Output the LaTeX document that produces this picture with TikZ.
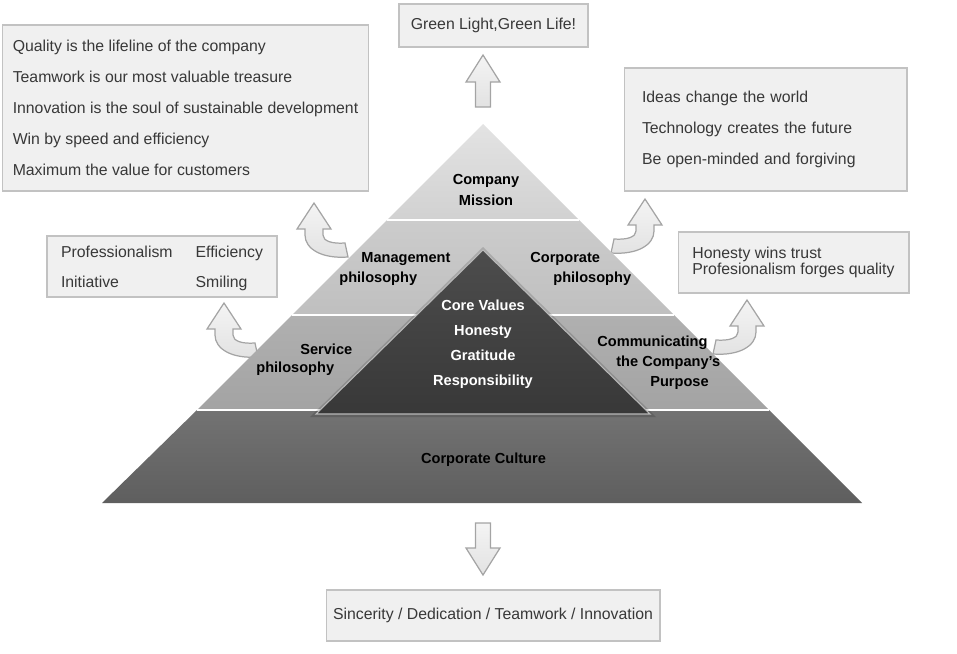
\documentclass[tikz,border=0pt]{standalone}
\usepackage{fontspec}
\setmainfont{Liberation Sans}

\definecolor{boxfill}{HTML}{F0F0F0}
\definecolor{boxline}{HTML}{C2C2C2}
\definecolor{boxtext}{HTML}{383838}
\definecolor{arrowline}{HTML}{A4A4A4}
\definecolor{arrowtop}{HTML}{F4F4F4}
\definecolor{arrowbottom}{HTML}{E2E2E2}

\tikzset{
    bentarrow/.pic={
        \path[hollowarrow] (0,0) -- (17,26) -- (9,26) -- (9,32)
            .. controls (9,38) and (18,41) .. (31,40) -- (34,54)
            .. controls (8,56) and (-9,46) .. (-9,32) -- (-9,26) -- (-17,26) -- cycle;
    },
    straightarrow/.pic={
        \path[hollowarrow] (0,0) -- (17,27) -- (7.5,27) -- (7.5,52)
            -- (-7.5,52) -- (-7.5,27) -- (-17,27) -- cycle;
    }
}

\begin{document}
\begin{tikzpicture}[
        x=0.02cm, y=-0.02cm,
        infobox/.style={
            rectangle,
            draw=boxline,
            fill=boxfill,
            line width=0.6pt,
            text=boxtext,
            align=left,
            inner sep=0pt,
            font=\fontsize{9}{17.6}\selectfont
        },
        layerlabel/.style={
            anchor=west,
            inner sep=0pt,
            font=\bfseries\fontsize{8.3}{12}\selectfont
        },
        corelabel/.style={
            text=white,
            align=center,
            inner sep=0pt,
            font=\bfseries\fontsize{8.3}{14.2}\selectfont
        },
        hollowarrow/.style={
            draw=arrowline,
            line width=0.7pt,
            top color=arrowtop,
            bottom color=arrowbottom
        },
        bandline/.style={white, line width=0.8pt}
    ]
        \useasboundingbox (0,0) rectangle (957,653);

        % arrows (behind the pyramid)
        \pic at (483,55) {straightarrow};
        \pic[yscale=-1] at (483,575) {straightarrow};
        \pic at (314,203) {bentarrow};
        \pic[xscale=-1] at (645,199) {bentarrow};
        \pic at (224,303) {bentarrow};
        \pic[xscale=-1] at (747,300) {bentarrow};

        % pyramid bands
        \path[top color=gray!22, bottom color=gray!36]
            (483,124) -- (579,220) -- (387,220) -- cycle;
        \path[top color=gray!40, bottom color=gray!50]
            (387,220) -- (579,220) -- (674,315) -- (292,315) -- cycle;
        \path[top color=gray!62, bottom color=gray!72]
            (292,315) -- (674,315) -- (769,410) -- (197,410) -- cycle;
        \path[top color=black!55, middle color=black!58, bottom color=black!63]
            (197,410) -- (769,410) -- (862,503) -- (102,503) -- cycle;
        \draw[bandline] (387,220) -- (579,220);
        \draw[bandline] (292,315) -- (674,315);
        \draw[bandline] (197,410) -- (769,410);

        % core triangle
        \fill[black, opacity=0.15] (483,247) -- (656,417) -- (310,417) -- cycle;
        \path[top color=black!70, bottom color=black!78, draw=gray!55, line width=0.6pt]
            (483,250) -- (650,414) -- (316,414) -- cycle;

        % pyramid labels
        \node[layerlabel, anchor=center, align=center] (mission) at (486,190) {Company\\Mission};
        \node[layerlabel] (mgmtA) at (361,259) {Management};
        \node[layerlabel] (mgmtB) at (339,279) {philosophy};
        \node[layerlabel] (corpA) at (530,259) {Corporate};
        \node[layerlabel] (corpB) at (553,279) {philosophy};
        \node[layerlabel] (servA) at (300,349) {Service};
        \node[layerlabel] (servB) at (256,369) {philosophy};
        \node[layerlabel] (commA) at (597,343) {Communicating};
        \node[layerlabel] (commB) at (616,363) {the Company's};
        \node[layerlabel] (commC) at (650,383) {Purpose};
        \node[corelabel] (core) at (483,344.5) {Core Values\\Honesty\\Gratitude\\Responsibility};
        \node[layerlabel, anchor=center] (culture) at (483.5,460) {Corporate Culture};

        % text boxes
        \node[infobox, minimum width=3.78cm, minimum height=0.86cm] (slogan) at (493.5,25.5)
            {Green Light,Green Life!};
        \node[infobox, minimum width=7.34cm, minimum height=3.32cm] (quality) at (185.5,108)
            {Quality is the lifeline of the company\\
             Teamwork is our most valuable treasure\\
             Innovation is the soul of sustainable development\\
             Win by speed and efficiency\\
             Maximum the value for customers};
        \node[infobox, text width=4.94cm, inner xsep=0.36cm, minimum height=2.46cm] (ideas) at (765.5,129.5)
            {Ideas change the world\\
             Technology creates the future\\
             Be open-minded and forgiving};
        \node[infobox, minimum width=4.6cm, minimum height=1.22cm, font=\fontsize{9}{17}\selectfont] (service) at (162,266.5)
            {\begin{tabular}{@{}l@{\hspace{0.46cm}}l@{}}
                Professionalism & Efficiency\\
                Initiative & Smiling
             \end{tabular}};
        \node[infobox, minimum width=4.62cm, minimum height=1.22cm, font=\fontsize{9}{9.2}\selectfont] (trust) at (793.5,262.5)
            {Honesty wins trust\\Profesionalism forges quality};
        \node[infobox, minimum width=6.68cm, minimum height=1.02cm] (spirit) at (493,615.5)
            {Sincerity / Dedication / Teamwork / Innovation};
    \end{tikzpicture}
\end{document}
